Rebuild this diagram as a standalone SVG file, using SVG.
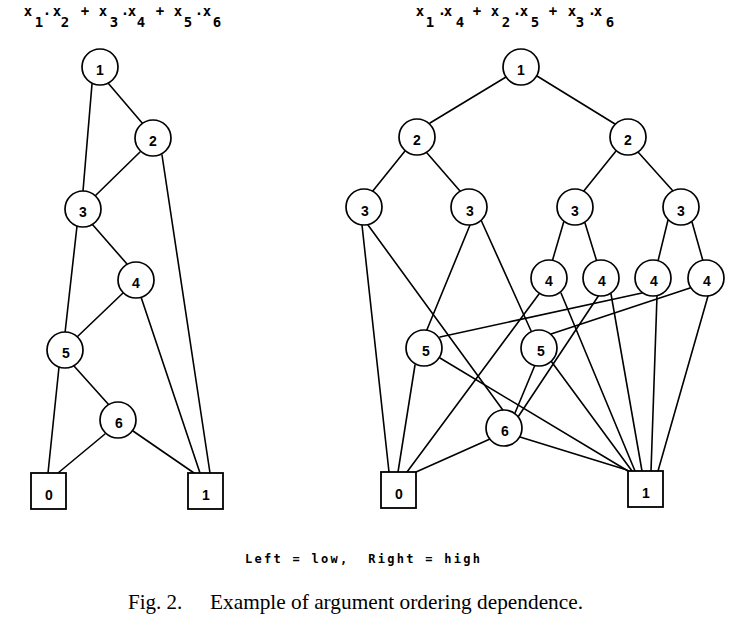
<svg xmlns="http://www.w3.org/2000/svg" width="747" height="639" viewBox="0 0 747 639">
<style>
  .bg{fill:#fff}
  .e line{stroke:#000;stroke-width:1.6;stroke-linecap:round}
  .n circle{fill:#fff;stroke:#000;stroke-width:1.7}
  .n rect{fill:#fff;stroke:#000;stroke-width:1.8}
  .n text{font-family:"Liberation Sans",Arial,sans-serif;font-weight:bold;font-size:14px;text-anchor:middle;fill:#000}
  .hdr{font-family:"DejaVu Sans Mono","Liberation Mono",monospace;font-weight:bold;font-size:14px;text-anchor:middle;fill:#000}
  .legend{font-family:"DejaVu Sans Mono","Liberation Mono",monospace;font-weight:bold;font-size:12px;fill:#000;white-space:pre}
  .cap{font-family:"Liberation Serif","Times New Roman",serif;font-size:21px;fill:#000}
</style>
<rect class="bg" x="0" y="0" width="747" height="639"/>

<text class="hdr" x="28 39 47 57 65 85 103 114 125 132 141 160 178 188 199 207 217" y="16 27 19 16 27 16 16 27 19 16 27 16 16 27 19 16 27">x1·x2+x3·x4+x5·x6</text>
<text class="hdr" x="420 430 442 448 460 477 495 506 517 524 535 553 572 580 592 598 610" y="16 27 19 16 27 16 16 27 19 16 27 16 16 27 19 16 27">x1·x4+x2·x5+x3·x6</text>

<g id="connectors" class="e">
  <!-- left graph -->
  <line x1="92" y1="84" x2="83" y2="191"/>
  <line x1="108" y1="83" x2="143" y2="124"/>
  <line x1="140" y1="152" x2="95" y2="196"/>
  <line x1="162" y1="155" x2="210" y2="473"/>
  <line x1="77" y1="226" x2="65" y2="333"/>
  <line x1="92" y1="224" x2="127" y2="264"/>
  <line x1="123" y1="293" x2="77" y2="337"/>
  <line x1="141" y1="297" x2="200" y2="473"/>
  <line x1="59" y1="367" x2="48" y2="473"/>
  <line x1="74" y1="366" x2="109" y2="405"/>
  <line x1="105" y1="434" x2="58" y2="473"/>
  <line x1="133" y1="431" x2="194" y2="473"/>
  <!-- right graph -->
  <line x1="506" y1="77" x2="430" y2="123"/>
  <line x1="537" y1="76" x2="615" y2="124"/>
  <line x1="405" y1="151" x2="372" y2="192"/>
  <line x1="427" y1="153" x2="460" y2="191"/>
  <line x1="616" y1="151" x2="583" y2="192"/>
  <line x1="638" y1="152" x2="673" y2="191"/>
  <line x1="564" y1="221" x2="552" y2="262"/>
  <line x1="585" y1="223" x2="597" y2="262"/>
  <line x1="668" y1="220" x2="658" y2="261"/>
  <line x1="692" y1="222" x2="703" y2="261"/>
  <line x1="362" y1="225" x2="389" y2="472"/>
  <line x1="368" y1="225" x2="505" y2="413"/>
  <line x1="470" y1="225" x2="426" y2="332"/>
  <line x1="481" y1="220" x2="532" y2="333"/>
  <line x1="415" y1="365" x2="398" y2="472"/>
  <line x1="440" y1="358" x2="628" y2="471"/>
  <line x1="535" y1="365" x2="515" y2="413"/>
  <line x1="551" y1="361" x2="632" y2="471"/>
  <line x1="539" y1="294" x2="407" y2="472"/>
  <line x1="561" y1="293" x2="635" y2="471"/>
  <line x1="599" y1="295" x2="518" y2="417"/>
  <line x1="611" y1="294" x2="642" y2="471"/>
  <line x1="642" y1="293" x2="440" y2="337"/>
  <line x1="657" y1="296" x2="651" y2="471"/>
  <line x1="690" y1="288" x2="551" y2="334"/>
  <line x1="708" y1="296" x2="658" y2="471"/>
  <line x1="490" y1="439" x2="416" y2="472"/>
  <line x1="520" y1="437" x2="627" y2="470"/>
</g>

<!-- left graph nodes -->
<g id="L1" class="n"><circle cx="100" cy="67" r="18"/><text x="100" y="75">1</text></g>
<g id="L2" class="n"><circle cx="153" cy="138" r="18"/><text x="153" y="146">2</text></g>
<g id="L3" class="n"><circle cx="83" cy="209" r="18"/><text x="83" y="217">3</text></g>
<g id="L4" class="n"><circle cx="136" cy="280" r="18"/><text x="136" y="288">4</text></g>
<g id="L5" class="n"><circle cx="65" cy="350" r="18"/><text x="66" y="358">5</text></g>
<g id="L6" class="n"><circle cx="118" cy="420" r="18"/><text x="119" y="428">6</text></g>
<g id="L0box" class="n"><rect x="31" y="473" width="35" height="36"/><text x="49" y="500">0</text></g>
<g id="L1box" class="n"><rect x="188" y="473" width="35" height="36"/><text x="206" y="500">1</text></g>

<!-- right graph nodes -->
<g id="R1" class="n"><circle cx="521" cy="67" r="18"/><text x="521" y="75">1</text></g>
<g id="R2a" class="n"><circle cx="417" cy="137" r="18"/><text x="417" y="145">2</text></g>
<g id="R2b" class="n"><circle cx="628" cy="137" r="18"/><text x="628" y="145">2</text></g>
<g id="R3a" class="n"><circle cx="364" cy="207" r="18"/><text x="365" y="216">3</text></g>
<g id="R3b" class="n"><circle cx="469" cy="207" r="18"/><text x="470" y="216">3</text></g>
<g id="R3c" class="n"><circle cx="575" cy="207" r="18"/><text x="575" y="216">3</text></g>
<g id="R3d" class="n"><circle cx="681" cy="207" r="18"/><text x="681" y="216">3</text></g>
<g id="R4a" class="n"><circle cx="549" cy="278" r="18"/><text x="549" y="286">4</text></g>
<g id="R4b" class="n"><circle cx="601" cy="278" r="18"/><text x="602" y="286">4</text></g>
<g id="R4c" class="n"><circle cx="653" cy="278" r="18"/><text x="654" y="286">4</text></g>
<g id="R4d" class="n"><circle cx="706" cy="278" r="18"/><text x="707" y="286">4</text></g>
<g id="R5a" class="n"><circle cx="424" cy="348" r="18"/><text x="426" y="356">5</text></g>
<g id="R5b" class="n"><circle cx="539" cy="348" r="18"/><text x="541" y="356">5</text></g>
<g id="R6" class="n"><circle cx="504" cy="428" r="18"/><text x="505" y="436">6</text></g>
<g id="R0box" class="n"><rect x="381" y="472" width="35" height="36"/><text x="399" y="499">0</text></g>
<g id="R1box" class="n"><rect x="628" y="471" width="35" height="36"/><text x="646" y="498">1</text></g>

<text class="legend" x="245" y="563" textLength="235" lengthAdjust="spacing">Left = low,  Right = high</text>
<text class="cap" x="128" y="609">Fig. 2.</text>
<text class="cap" x="210" y="609" textLength="373" lengthAdjust="spacingAndGlyphs">Example of argument ordering dependence.</text>
</svg>
